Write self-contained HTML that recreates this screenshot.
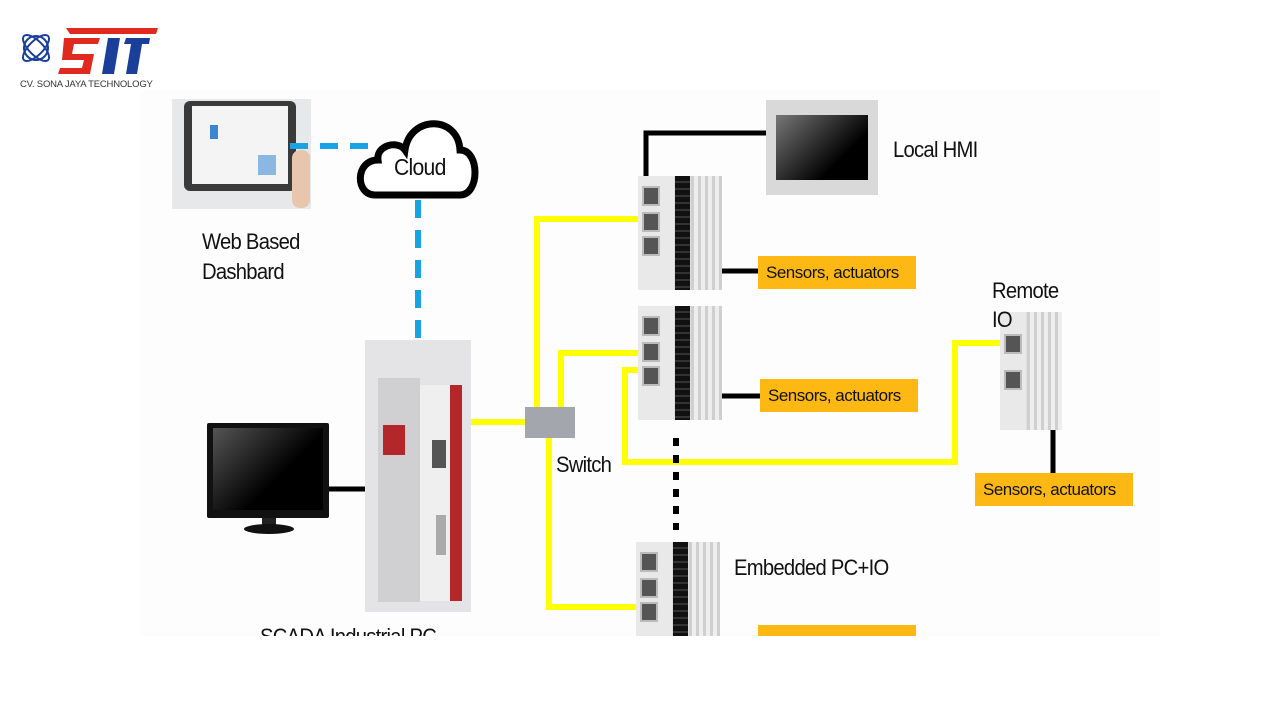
<!DOCTYPE html>
<html><head><meta charset="utf-8"><style>
body{margin:0;width:1280px;height:720px;background:#fff;position:relative;overflow:hidden;font-family:"Liberation Sans",sans-serif}
.a{position:absolute}
.t{position:absolute;color:#111;font-size:22px;letter-spacing:-0.8px;white-space:nowrap;transform-origin:left top;transform:scaleX(0.92)}
.sens{position:absolute;background:#fdb813;font-size:17px;color:#111;height:33px;line-height:33px;padding-left:8px;box-sizing:border-box;width:158px;letter-spacing:-0.5px}
.mod{position:absolute;width:84px;background:#dedede;overflow:hidden}
.mod .l{position:absolute;left:0;top:0;width:36px;height:100%;background:#e9e9e9}
.mod .p{position:absolute;left:4px;width:14px;height:16px;background:#555;border:2px solid #bbb}
.mod .s{position:absolute;left:37px;top:0;width:15px;height:100%;background:repeating-linear-gradient(#111 0 5px,#333 5px 7px)}
.mod .r{position:absolute;left:53px;top:0;width:31px;height:100%;background:repeating-linear-gradient(90deg,#cfcfcf 0 3px,#eee 3px 7px)}
</style></head><body>
<div class="a" style="left:140px;top:90px;width:1020px;height:546px;background:#fdfdfd"></div>
<!-- logo -->
<svg class="a" style="left:18px;top:26px" width="145" height="52">
<g stroke="#1a3f9a" stroke-width="2" fill="none"><circle cx="18" cy="22" r="12"/><ellipse cx="18" cy="22" rx="17" ry="7" transform="rotate(45 18 22)"/><ellipse cx="18" cy="22" rx="17" ry="7" transform="rotate(-45 18 22)"/></g>
<polygon points="48,2 140,2 138,8 52,8" fill="#e02a20"/>
<polygon points="46,12 82,12 80,18 56,18 54,28 76,28 72,48 40,48 42,42 64,42 66,34 44,34" fill="#e02a20"/>
<polygon points="90,12 102,12 96,48 84,48" fill="#1a3f9a"/><polygon points="108,12 132,12 131,18 124,18 119,48 108,48 113,18 106,18" fill="#1a3f9a"/>
</svg>
<div class="a" style="left:20px;top:79px;font-size:9.5px;color:#333;letter-spacing:-0.2px">CV. SONA JAYA TECHNOLOGY</div>
<!-- tablet -->
<div class="a" style="left:172px;top:99px;width:139px;height:110px;background:#e6e8ea"></div>
<div class="a" style="left:184px;top:101px;width:112px;height:90px;background:#3a3a3a;border-radius:6px"></div>
<div class="a" style="left:192px;top:106px;width:96px;height:78px;background:#f4f4f4"></div>
<div class="a" style="left:210px;top:125px;width:8px;height:14px;background:#3b86d0"></div>
<div class="a" style="left:258px;top:155px;width:18px;height:20px;background:#8ab8e0"></div>
<div class="a" style="left:292px;top:150px;width:18px;height:58px;background:#e7c6ad;border-radius:8px"></div>
<div class="t" style="left:202px;top:229px">Web Based</div>
<div class="t" style="left:202px;top:259px">Dashbard</div>
<svg class="a" style="left:0;top:0" width="1280" height="720">
<!-- cloud -->
<path d="M375,195 C355,195 355,160 378,160 C376,145 398,140 405,150 C410,115 458,115 460,150 C480,150 480,195 460,195 Z" fill="#fff" stroke="#000" stroke-width="7"/>
<g stroke="#1aa3e3" stroke-width="6" stroke-dasharray="18,12" fill="none"><path d="M290,146 H368"/><path d="M418,200 V372"/></g>
<!-- yellow -->
<g stroke="#ffff00" stroke-width="6" fill="none">
<path d="M447,422 H527"/><path d="M537,407 V219 H650"/><path d="M561,407 V353 H648"/><path d="M645,370 H625 V462 H955 V343 H1014"/><path d="M549,438 V607 H642"/>
</g>
<!-- black -->
<g stroke="#000" stroke-width="5" fill="none">
<path d="M646,215 V133 H768"/><path d="M710,271 H758"/><path d="M714,396 H760"/><path d="M1053,428 V473"/><path d="M329,489 H387"/>
<path d="M676,438 V530" stroke-width="6" stroke-dasharray="8,9"/>
</g>
</svg>
<div class="t" style="left:394px;top:154px;font-size:23px">Cloud</div>
<!-- switch -->
<div class="a" style="left:525px;top:407px;width:50px;height:31px;background:#a3a6ad"></div>
<div class="t" style="left:556px;top:452px">Switch</div>
<!-- monitor -->
<div class="a" style="left:207px;top:423px;width:122px;height:95px;background:#111;border-radius:2px"></div>
<div class="a" style="left:213px;top:428px;width:110px;height:82px;background:linear-gradient(135deg,#555,#000 60%)"></div>
<div class="a" style="left:262px;top:518px;width:14px;height:8px;background:#222"></div>
<div class="a" style="left:244px;top:524px;width:50px;height:10px;background:#111;border-radius:50%"></div>
<!-- PC -->
<div class="a" style="left:365px;top:340px;width:106px;height:272px;background:#e4e4e6"></div>
<div class="a" style="left:378px;top:378px;width:42px;height:224px;background:#d0d0d2"></div>
<div class="a" style="left:383px;top:425px;width:22px;height:30px;background:#b3262a"></div>
<div class="a" style="left:420px;top:385px;width:30px;height:216px;background:#efefef"></div>
<div class="a" style="left:450px;top:385px;width:12px;height:216px;background:#b3262a"></div>
<div class="a" style="left:432px;top:440px;width:14px;height:28px;background:#555"></div>
<div class="a" style="left:436px;top:515px;width:10px;height:40px;background:#aaa"></div>
<div class="t" style="left:260px;top:624px;height:12px;overflow:hidden">SCADA Industrial PC</div>
<!-- HMI -->
<div class="a" style="left:766px;top:100px;width:112px;height:95px;background:#d9d9d9"></div>
<div class="a" style="left:776px;top:115px;width:92px;height:65px;background:linear-gradient(135deg,#777,#000 70%)"></div>
<div class="t" style="left:893px;top:137px">Local HMI</div>
<!-- modules -->
<div class="mod" style="left:638px;top:176px;height:114px"><div class="l"></div><div class="p" style="top:10px"></div><div class="p" style="top:36px"></div><div class="p" style="top:60px"></div><div class="s"></div><div class="r"></div></div>
<div class="mod" style="left:638px;top:306px;height:114px"><div class="l"></div><div class="p" style="top:10px"></div><div class="p" style="top:36px"></div><div class="p" style="top:60px"></div><div class="s"></div><div class="r"></div></div>
<div class="mod" style="left:636px;top:542px;height:94px"><div class="l"></div><div class="p" style="top:10px"></div><div class="p" style="top:36px"></div><div class="p" style="top:60px"></div><div class="s"></div><div class="r"></div></div>
<div class="mod" style="left:1000px;top:312px;width:62px;height:118px"><div class="l" style="width:26px"></div><div class="p" style="top:22px"></div><div class="p" style="top:58px"></div><div class="r" style="left:27px;width:35px"></div></div>
<div class="sens" style="left:758px;top:256px">Sensors, actuators</div>
<div class="sens" style="left:760px;top:379px">Sensors, actuators</div>
<div class="sens" style="left:975px;top:473px">Sensors, actuators</div>
<div class="sens" style="left:758px;top:625px;height:11px"></div>
<div class="t" style="left:992px;top:278px">Remote</div>
<div class="t" style="left:992px;top:307px">IO</div>
<div class="t" style="left:734px;top:555px">Embedded PC+IO</div>
</body></html>
